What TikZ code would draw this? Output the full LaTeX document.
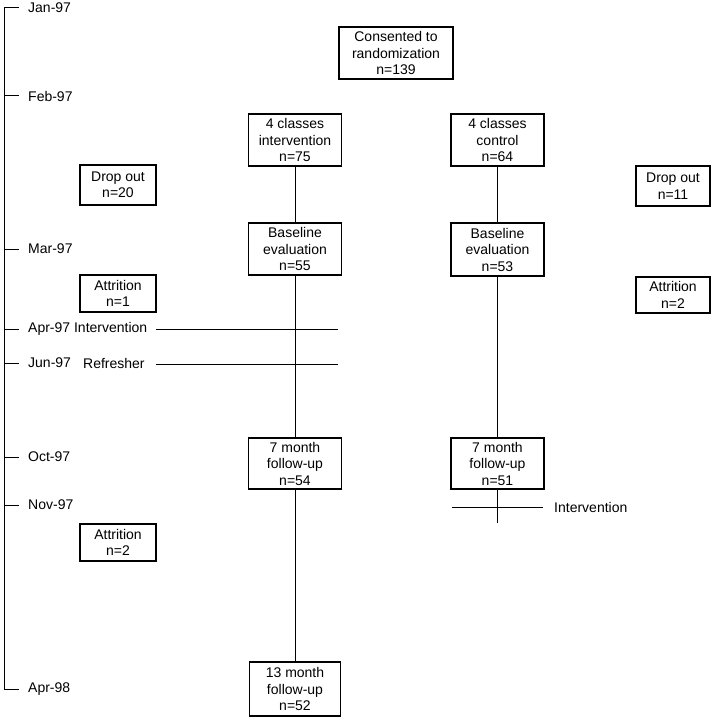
\documentclass[tikz,border=0pt]{standalone}
\usepackage{fontspec}
\setmainfont{Liberation Sans}
\begin{document}
\begin{tikzpicture}[x=1pt,y=-1pt,
  every node/.style={font=\fontsize{14}{16.5}\selectfont, inner sep=0pt},
  box/.style={draw, line width=1.5pt, align=center},
  lab/.style={anchor=west},
  conn/.style={line width=1pt}]
\useasboundingbox (0,0) rectangle (712,719);
% timeline
\coordinate (ttop) at (4,8);
\coordinate (tbot) at (4,689);
\draw[conn] (ttop) -- (tbot);
\foreach \y/\n in {8/jan,96/feb,249/mar,329/apr,363/jun,457/oct,505/nov,689/aprn}{
  \coordinate (t\n) at (4,\y);
  \coordinate (e\n) at (19,\y);
  \draw[conn] (t\n) -- (e\n);
}
\node[lab] (ljan) at (28,8) {Jan-97};
\node[lab] (lfeb) at (28,96) {Feb-97};
\node[lab] (lmar) at (28,249) {Mar-97};
\node[lab] (lapr) at (28,329) {Apr-97 Intervention};
\node[lab] (ljun) at (28,363) {Jun-97};
\node[lab] (lref) at (83,363) {Refresher};
\node[lab] (loct) at (28,457) {Oct-97};
\node[lab] (lnov) at (28,505) {Nov-97};
\node[lab] (laprn) at (28,689) {Apr-98};
% boxes
\node[box, minimum width=114pt, minimum height=52pt] (cons) at (396,53) {Consented to\\randomization\\n=139};
\node[box, minimum width=93pt, minimum height=52pt] (int4) at (295,140) {4 classes\\intervention\\n=75};
\node[box, minimum width=93pt, minimum height=52pt] (ctl4) at (497.5,140) {4 classes\\control\\n=64};
\node[box, minimum width=76pt, minimum height=40pt] (drop20) at (118,185) {Drop out\\n=20};
\node[box, minimum width=74pt, minimum height=40pt] (drop11) at (673,186) {Drop out\\n=11};
\node[box, minimum width=93pt, minimum height=52pt] (base55) at (295,249) {Baseline\\evaluation\\n=55};
\node[box, minimum width=93pt, minimum height=53pt] (base53) at (497.5,249.5) {Baseline\\evaluation\\n=53};
\node[box, minimum width=76pt, minimum height=37pt] (att1) at (118,293.5) {Attrition\\n=1};
\node[box, minimum width=74pt, minimum height=36pt] (att2r) at (673,295) {Attrition\\n=2};
\node[box, minimum width=93pt, minimum height=51pt] (fu54) at (295,463.5) {7 month\\follow-up\\n=54};
\node[box, minimum width=93pt, minimum height=51pt] (fu51) at (497.5,463.5) {7 month\\follow-up\\n=51};
\node[box, minimum width=76pt, minimum height=37pt] (att2l) at (118,542.5) {Attrition\\n=2};
\node[box, minimum width=91pt, minimum height=54pt] (fu52) at (295,689) {13 month\\follow-up\\n=52};
% connectors
\draw[conn] (int4) -- (base55);
\draw[conn] (base55) -- (fu54);
\draw[conn] (fu54) -- (fu52);
\draw[conn] (ctl4) -- (base53);
\draw[conn] (base53) -- (fu51);
\coordinate (cend) at (fu51.south |- 0,523);
\draw[conn] (fu51) -- (cend);
% horizontal intervention lines
\coordinate (ia) at (156,329); \coordinate (ib) at (338,329);
\coordinate (ra) at (156,364); \coordinate (rb) at (338,364);
\draw[conn] (ia) -- (ib);
\draw[conn] (ra) -- (rb);
\coordinate (ca) at (452,507); \coordinate (cb) at (543,507);
\draw[conn] (ca) -- (cb);
\node[lab] (cint) at (554,507) {Intervention};
\end{tikzpicture}
\end{document}
